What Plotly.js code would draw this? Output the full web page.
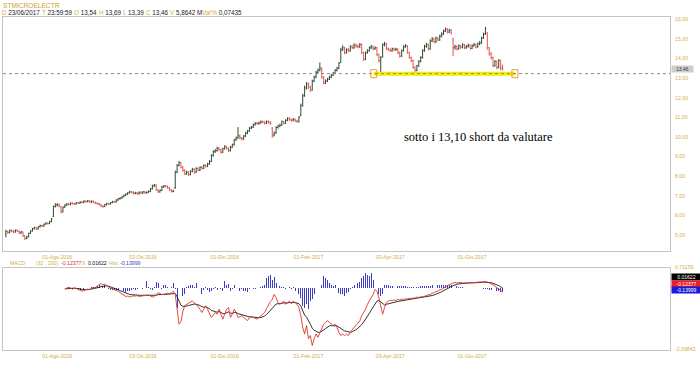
<!DOCTYPE html>
<html>
<head>
<meta charset="utf-8">
<script src="https://cdn.plot.ly/plotly-3.0.1.min.js"></script>
<style>html,body{margin:0;padding:0;background:#fff}#chart{width:700px;height:365px}</style>
</head>
<body>
<div id="chart"></div>
<script>
// ---- data (daily bars, 23/06/2016 .. 23/06/2017) ----
const openP = [5.05,5.18,5.12,5.22,5.20,5.15,5.24,5.19,5.10,5.15,
4.95,4.82,4.90,5.08,5.20,5.32,5.38,5.30,5.42,5.48,
5.45,5.55,5.60,5.58,5.68,5.95,6.45,6.52,6.55,6.45,
6.18,6.42,6.52,6.58,6.55,6.62,6.60,6.58,6.64,6.62,
6.68,6.66,6.72,6.70,6.74,6.68,6.72,6.66,6.62,6.60,
6.55,6.48,6.45,6.55,6.60,6.58,6.65,6.70,6.68,6.78,
6.85,6.88,6.95,7.02,7.08,7.15,7.20,7.18,7.12,7.15,
7.10,7.18,7.14,7.20,7.15,7.18,7.22,7.35,7.50,7.55,
7.30,7.20,7.28,7.45,7.50,7.48,7.40,7.30,7.22,7.40,
8.20,8.55,8.68,8.45,8.30,8.12,8.20,8.08,8.25,8.35,
8.20,8.40,8.30,8.45,8.40,8.55,8.50,8.62,8.75,9.05,
9.25,9.30,9.42,9.35,9.22,9.40,9.50,9.42,9.30,9.48,
9.60,9.85,9.95,10.05,9.95,9.90,10.05,10.20,10.30,10.45,
10.50,10.62,10.70,10.68,10.72,10.78,10.75,10.70,10.78,10.75,
10.45,10.10,10.20,10.48,10.55,10.60,10.78,10.70,10.85,10.95,
10.88,10.85,10.90,10.82,10.78,11.10,11.60,12.10,12.50,12.70,
12.55,12.40,12.85,13.05,13.30,13.40,13.50,13.05,12.75,12.85,
12.95,13.05,13.15,13.25,13.40,13.50,13.80,14.45,14.55,14.30,
14.45,14.40,14.60,14.55,14.68,14.62,14.60,14.72,14.30,13.95,
14.30,14.40,14.55,14.60,14.50,14.55,14.20,13.90,14.10,14.70,
14.75,14.50,14.45,14.40,14.50,14.45,14.48,14.30,14.12,14.40,
14.60,14.65,14.30,14.05,13.90,13.55,13.40,13.62,13.85,14.05,
14.40,14.62,14.70,14.50,14.90,15.00,14.85,15.05,14.95,15.15,
15.25,15.40,15.50,15.35,15.45,15.00,14.55,14.62,14.50,14.65,
14.58,14.70,14.55,14.62,14.68,14.52,14.65,14.72,14.60,14.75,
14.80,15.05,15.25,15.30,14.55,14.25,14.05,13.65,13.85,13.55,
13.90,13.54];

const highP = [5.26,5.22,5.27,5.28,5.24,5.28,5.28,5.22,5.20,5.17,
4.98,4.95,5.12,5.24,5.36,5.42,5.41,5.45,5.52,5.52,
5.58,5.64,5.64,5.72,5.86,6.50,6.62,6.62,6.60,6.48,
6.45,6.56,6.62,6.62,6.66,6.66,6.64,6.68,6.68,6.72,
6.72,6.76,6.76,6.78,6.77,6.76,6.75,6.70,6.66,6.64,
6.58,6.52,6.58,6.64,6.64,6.68,6.74,6.74,6.82,6.88,
6.92,6.98,7.06,7.12,7.18,7.25,7.24,7.22,7.20,7.19,
7.22,7.22,7.24,7.24,7.22,7.27,7.40,7.56,7.60,7.58,
7.34,7.32,7.50,7.55,7.55,7.52,7.44,7.34,7.30,8.28,
8.62,8.78,8.72,8.52,8.35,8.28,8.25,8.30,8.42,8.40,
8.45,8.45,8.50,8.52,8.60,8.60,8.68,8.82,9.12,9.32,
9.38,9.50,9.48,9.40,9.45,9.58,9.55,9.46,9.54,9.66,
9.90,10.02,10.50,10.12,10.00,10.10,10.26,10.36,10.50,10.56,
10.68,10.76,10.76,10.78,10.84,10.84,10.80,10.84,10.84,10.80,
10.50,10.28,10.54,10.62,10.68,10.84,10.82,10.90,11.00,11.00,
10.94,10.96,10.95,10.88,11.06,11.70,12.20,12.62,12.80,12.78,
12.62,12.92,13.12,13.38,13.50,13.80,13.55,13.10,12.94,13.02,
13.12,13.22,13.32,13.46,13.58,13.82,14.55,14.68,14.60,14.52,
14.55,14.68,14.70,14.78,14.76,14.72,14.80,14.76,14.35,14.36,
14.48,14.62,14.70,14.66,14.62,14.60,14.25,14.12,14.78,14.85,
14.80,14.56,14.52,14.56,14.55,14.55,14.52,14.36,14.46,14.68,
14.74,14.68,14.35,14.10,13.94,13.60,13.68,13.92,14.12,14.48,
14.70,14.80,14.76,14.98,15.10,15.05,15.12,15.10,15.22,15.34,
15.48,15.58,15.55,15.52,15.50,15.05,14.70,14.66,14.72,14.70,
14.78,14.74,14.70,14.76,14.72,14.72,14.80,14.76,14.82,14.90,
15.12,15.32,15.62,15.35,14.60,14.32,14.10,13.92,13.90,13.98,
13.94,13.69];

const lowP = [4.88,5.06,5.08,5.14,5.10,5.12,5.14,5.05,5.06,4.90,
4.74,4.78,4.88,5.05,5.18,5.28,5.26,5.28,5.38,5.40,
5.42,5.52,5.53,5.55,5.65,5.92,6.40,6.45,6.40,6.10,
6.15,6.38,6.48,6.50,6.52,6.55,6.54,6.55,6.58,6.58,
6.62,6.62,6.65,6.66,6.64,6.64,6.62,6.58,6.55,6.50,
6.42,6.38,6.42,6.50,6.54,6.55,6.62,6.63,6.65,6.74,
6.80,6.84,6.92,6.98,7.04,7.12,7.12,7.06,7.08,7.05,
7.06,7.08,7.10,7.10,7.10,7.14,7.20,7.32,7.44,7.25,
7.14,7.16,7.25,7.40,7.42,7.35,7.25,7.16,7.18,7.35,
8.15,8.50,8.40,8.22,8.05,8.06,8.00,8.04,8.20,8.12,
8.16,8.24,8.26,8.34,8.36,8.44,8.46,8.58,8.72,9.00,
9.18,9.25,9.28,9.15,9.18,9.35,9.36,9.22,9.26,9.44,
9.56,9.80,9.90,9.88,9.82,9.86,10.00,10.14,10.26,10.40,
10.46,10.58,10.62,10.62,10.68,10.70,10.64,10.66,10.68,10.62,
9.95,10.02,10.16,10.42,10.50,10.56,10.64,10.66,10.80,10.82,
10.78,10.80,10.76,10.72,10.74,11.05,11.55,12.05,12.42,12.45,
12.30,12.36,12.80,13.00,13.22,13.35,12.98,12.68,12.70,12.80,
12.90,13.00,13.10,13.20,13.34,13.46,13.78,14.38,14.22,14.25,
14.32,14.35,14.48,14.50,14.55,14.52,14.55,14.22,13.88,13.92,
14.25,14.35,14.48,14.42,14.44,14.12,13.80,13.25,14.05,14.62,
14.44,14.38,14.34,14.35,14.38,14.40,14.22,14.05,14.08,14.36,
14.55,14.24,13.98,13.82,13.48,13.28,13.35,13.58,13.80,14.00,
14.35,14.55,14.42,14.45,14.84,14.78,14.80,14.88,14.90,15.08,
15.20,15.35,15.28,15.30,15.22,14.12,14.45,14.42,14.45,14.50,
14.52,14.48,14.50,14.56,14.45,14.48,14.60,14.52,14.55,14.68,
14.75,15.00,15.20,14.45,14.15,13.95,13.55,13.58,13.45,13.50,
13.40,13.39];

const closeP = [5.18,5.12,5.22,5.20,5.15,5.24,5.19,5.10,5.16,4.95,
4.82,4.90,5.08,5.20,5.32,5.38,5.30,5.42,5.48,5.45,
5.55,5.60,5.58,5.68,5.82,6.45,6.52,6.55,6.48,6.18,
6.42,6.52,6.58,6.55,6.62,6.60,6.58,6.64,6.62,6.68,
6.66,6.72,6.70,6.74,6.68,6.72,6.66,6.62,6.60,6.55,
6.48,6.45,6.55,6.60,6.58,6.65,6.70,6.68,6.78,6.85,
6.88,6.95,7.02,7.08,7.15,7.20,7.18,7.12,7.15,7.10,
7.18,7.14,7.20,7.15,7.18,7.22,7.35,7.50,7.55,7.30,
7.20,7.28,7.45,7.50,7.48,7.40,7.30,7.22,7.25,8.20,
8.55,8.68,8.45,8.30,8.12,8.20,8.08,8.25,8.35,8.20,
8.40,8.30,8.45,8.40,8.55,8.50,8.62,8.75,9.05,9.25,
9.30,9.42,9.35,9.22,9.40,9.50,9.42,9.30,9.48,9.60,
9.85,9.95,10.05,9.95,9.90,10.05,10.20,10.30,10.45,10.50,
10.62,10.70,10.68,10.72,10.78,10.75,10.70,10.78,10.75,10.68,
10.10,10.20,10.48,10.55,10.60,10.78,10.70,10.85,10.95,10.88,
10.85,10.90,10.82,10.78,11.00,11.60,12.10,12.50,12.70,12.55,
12.40,12.85,13.05,13.30,13.40,13.50,13.05,12.75,12.85,12.95,
13.05,13.15,13.25,13.40,13.50,13.75,14.45,14.55,14.30,14.45,
14.40,14.60,14.55,14.68,14.62,14.60,14.72,14.30,13.95,14.30,
14.40,14.55,14.60,14.50,14.55,14.20,13.90,14.05,14.70,14.75,
14.50,14.45,14.40,14.50,14.45,14.48,14.30,14.12,14.40,14.60,
14.65,14.30,14.05,13.90,13.55,13.40,13.62,13.85,14.05,14.40,
14.62,14.70,14.50,14.90,15.00,14.85,15.05,14.95,15.15,15.25,
15.40,15.50,15.35,15.45,15.30,14.55,14.62,14.50,14.65,14.58,
14.70,14.55,14.62,14.68,14.52,14.65,14.72,14.60,14.75,14.80,
15.05,15.25,15.52,14.55,14.25,14.05,13.65,13.85,13.55,13.90,
13.50,13.46];

// MACD (32,200) with signal 9 — first value belongs to bar number macdFirstBar
const macdFirstBar = 31;
const macdLine = [-0.02,0.00,0.03,0.01,-0.03,0.02,0.00,-0.04,-0.07,-0.10,
-0.08,-0.05,-0.03,-0.04,0.00,0.03,0.02,0.08,0.13,0.16,
0.12,0.14,0.08,0.04,0.00,-0.02,-0.05,-0.07,-0.10,-0.15,
-0.20,-0.25,-0.28,-0.27,-0.30,-0.28,-0.26,-0.27,-0.25,-0.28,
-0.27,-0.26,-0.24,-0.22,-0.23,-0.27,-0.30,-0.28,-0.22,-0.15,
-0.18,-0.22,-0.21,-0.19,-0.17,-0.19,-0.16,-0.10,-0.21,-0.72,
-1.23,-1.15,-0.80,-0.60,-0.55,-0.50,-0.47,-0.44,-0.49,-0.55,
-0.62,-0.72,-0.83,-0.72,-0.60,-0.72,-0.89,-1.00,-0.92,-0.83,
-0.89,-0.72,-0.89,-1.06,-0.89,-0.72,-0.66,-1.00,-0.89,-0.72,
-0.83,-1.00,-0.97,-0.94,-1.00,-1.06,-1.11,-1.00,-0.98,-1.00,
-1.04,-1.06,-1.00,-0.94,-0.90,-0.83,-0.70,-0.55,-0.45,-0.38,
-0.21,-0.32,-0.49,-0.55,-0.49,-0.44,-0.55,-0.49,-0.44,-0.53,
-0.44,-0.49,-0.55,-0.66,-0.94,-1.34,-1.57,-1.28,-1.73,-1.62,
-1.96,-1.73,-1.57,-1.68,-1.51,-1.34,-1.23,-1.17,-1.11,-1.17,
-1.23,-1.28,-1.23,-1.34,-1.51,-1.62,-1.57,-1.62,-1.57,-1.62,
-1.51,-1.40,-1.34,-1.28,-1.17,-1.11,-0.94,-0.83,-0.72,-0.55,
-0.44,-0.32,-0.21,-0.04,-0.10,-0.32,-0.66,-0.89,-0.66,-0.49,
-0.44,-0.41,-0.43,-0.40,-0.42,-0.38,-0.40,-0.37,-0.39,-0.36,
-0.37,-0.34,-0.36,-0.33,-0.34,-0.30,-0.32,-0.29,-0.30,-0.27,
-0.26,-0.22,-0.22,-0.17,-0.16,-0.11,-0.10,-0.05,-0.04,0.01,
0.04,0.09,0.12,0.16,0.18,0.20,0.18,0.19,0.20,0.18,
0.18,0.19,0.18,0.18,0.19,0.19,0.20,0.21,0.22,0.23,
0.24,0.23,0.21,0.19,0.16,0.12,0.07,0.03,-0.02,-0.08,
-0.12377];

const signalLine = [-0.02,-0.01,0.00,0.01,0.00,0.00,0.00,-0.01,-0.02,-0.04,
-0.05,-0.05,-0.05,-0.04,-0.03,-0.02,-0.01,0.01,0.03,0.06,
0.07,0.08,0.08,0.07,0.05,0.03,0.01,-0.02,-0.05,-0.08,
-0.11,-0.14,-0.17,-0.19,-0.21,-0.22,-0.23,-0.23,-0.23,-0.24,
-0.24,-0.24,-0.24,-0.23,-0.23,-0.24,-0.25,-0.25,-0.24,-0.22,
-0.21,-0.21,-0.21,-0.21,-0.20,-0.20,-0.19,-0.17,-0.18,-0.29,
-0.47,-0.58,-0.62,-0.62,-0.61,-0.59,-0.57,-0.55,-0.54,-0.55,
-0.56,-0.59,-0.63,-0.65,-0.64,-0.66,-0.70,-0.76,-0.79,-0.80,
-0.82,-0.80,-0.82,-0.87,-0.87,-0.84,-0.81,-0.85,-0.86,-0.83,
-0.83,-0.87,-0.89,-0.90,-0.92,-0.95,-0.98,-0.98,-0.98,-0.99,
-1.00,-1.01,-1.01,-1.00,-0.98,-0.95,-0.90,-0.83,-0.76,-0.68,
-0.59,-0.54,-0.53,-0.53,-0.52,-0.50,-0.51,-0.50,-0.49,-0.50,
-0.49,-0.49,-0.50,-0.53,-0.61,-0.76,-0.92,-0.99,-1.14,-1.23,
-1.37,-1.44,-1.47,-1.51,-1.51,-1.48,-1.43,-1.38,-1.32,-1.29,
-1.28,-1.28,-1.27,-1.29,-1.33,-1.39,-1.42,-1.46,-1.48,-1.51,
-1.51,-1.49,-1.46,-1.42,-1.37,-1.32,-1.24,-1.16,-1.07,-0.97,
-0.86,-0.75,-0.64,-0.52,-0.44,-0.42,-0.47,-0.55,-0.57,-0.55,
-0.53,-0.51,-0.49,-0.48,-0.46,-0.45,-0.44,-0.43,-0.42,-0.41,
-0.40,-0.39,-0.38,-0.37,-0.36,-0.35,-0.34,-0.33,-0.32,-0.31,
-0.30,-0.29,-0.27,-0.25,-0.23,-0.21,-0.18,-0.15,-0.12,-0.09,
-0.06,-0.02,0.02,0.06,0.09,0.12,0.14,0.15,0.16,0.17,
0.17,0.18,0.18,0.18,0.18,0.18,0.19,0.19,0.20,0.20,
0.21,0.21,0.21,0.20,0.19,0.17,0.15,0.12,0.09,0.05,
0.01622];

const histBars = [0.00,0.01,0.03,0.00,-0.03,0.02,0.00,-0.03,-0.05,-0.06,
-0.03,0.00,0.02,0.00,0.03,0.05,0.03,0.07,0.10,0.19,
0.08,0.12,0.02,-0.03,-0.05,-0.05,-0.06,-0.05,-0.05,-0.07,
-0.09,-0.11,-0.12,-0.08,-0.10,-0.06,-0.03,-0.05,-0.02,-0.04,
-0.03,-0.02,0.01,0.24,0.03,-0.03,-0.05,0.04,0.22,0.19,
0.03,-0.01,0.10,0.11,0.05,0.02,0.04,0.19,-0.04,-0.66,
-0.55,-0.38,-0.25,-0.20,0.05,0.08,0.10,0.10,0.05,0.19,
0.15,-0.06,-0.18,-0.06,0.05,-0.06,-0.12,-0.10,-0.03,0.03,
-0.06,0.08,-0.04,-0.10,0.24,0.12,0.15,-0.10,-0.03,0.11,
0.02,-0.12,-0.08,-0.04,-0.08,-0.11,-0.13,-0.02,0.00,-0.01,
-0.04,-0.05,0.01,0.06,0.08,0.12,0.36,0.41,0.47,0.30,
0.38,0.19,0.10,0.07,0.04,0.06,-0.04,0.01,0.05,-0.03,
0.05,-0.10,-0.15,-0.21,-0.33,-0.60,-0.66,-0.55,-0.72,-0.45,
-0.38,-0.21,-0.10,-0.05,0.00,0.10,0.41,0.36,0.30,0.19,
0.12,0.07,0.10,-0.05,-0.15,-0.21,-0.18,-0.27,-0.15,-0.12,
-0.02,0.06,0.10,0.12,0.18,0.21,0.36,0.41,0.52,0.47,
0.41,0.52,0.30,0.69,0.47,-0.21,-0.25,-0.21,0.10,0.12,
0.10,0.09,0.09,0.08,0.09,0.08,0.07,0.07,0.08,0.07,
0.06,0.06,0.05,0.05,0.05,0.06,0.06,0.07,0.07,0.08,
0.08,0.09,0.09,0.10,0.10,0.10,0.11,0.11,0.11,0.12,
0.12,0.12,0.11,0.11,0.10,0.09,0.07,0.05,0.04,0.03,
0.02,0.02,0.01,0.01,0.01,0.01,0.01,0.01,0.01,0.01,
-0.01,-0.02,-0.03,-0.05,-0.06,-0.07,-0.08,-0.09,-0.11,-0.12,
-0.13999];

// axis labels: bar number of each labelled date and its text
const tickBar = [27, 72, 115, 159, 202, 245];
const tickLabels = ['01-Ago-2016','03-Ott-2016','01-Dic-2016','01-Feb-2017','03-Apr-2017','01-Giu-2017'];
const priceTicks = [5,6,7,8,9,10,11,12,13,14,15,16];
const priceTickLabels = ['5,00','6,00','7,00','8,00','9,00','10,00','11,00','12,00','13,00','14,00','15,00','16,00'];
const macdRange = [-2.09842, 0.71159];
const macdRangeLabels = ['-2,09842','0,71159'];
const supportLevel = 13.23;
const supportFromBar = 193.3, supportToBar = 267.5;
const lastClose = 13.46;

// header values
const headerItems = [['D','23/06/2017'],['T','23:59:59'],['O','13,54'],['H','13,69'],['L','13,39'],['C','13,46'],['V','5,8642 M'],['Var%','0,07435']];
const headerX = [0, 40, 72, 97, 121, 144, 168, 200];

// ---- drawing ----
const W = 700, H = 365;
const px = v => v / W, py = v => 1 - v / H;
const GOLD = '#d2ad45';
const FONT = 'Liberation Sans, Arial, sans-serif';
const bars = closeP.map((_, i) => i);
const macdX = macdLine.map((_, k) => k + macdFirstBar);
const xr = [-1.5, 349];

const traces = [
  {type:'ohlc', x:bars, open:openP, high:highP, low:lowP, close:closeP,
   xaxis:'x', yaxis:'y', tickwidth:0.45, hoverinfo:'skip',
   increasing:{line:{color:'#2f4a33', width:1}},
   decreasing:{line:{color:'#e0554d', width:1}}},
  {type:'bar', x:macdX, y:histBars, xaxis:'x2', yaxis:'y2', width:0.45,
   marker:{color:'#3c3cc4', line:{width:0}}, hoverinfo:'skip'},
  {type:'scatter', mode:'lines', x:macdX, y:signalLine, xaxis:'x2', yaxis:'y2',
   line:{color:'#1a1a1a', width:0.9}, hoverinfo:'skip'},
  {type:'scatter', mode:'lines', x:macdX, y:macdLine, xaxis:'x2', yaxis:'y2',
   line:{color:'#e0352b', width:0.9}, hoverinfo:'skip'}
];

const axisCommon = {showgrid:false, zeroline:false, showline:true, mirror:true,
  linecolor:'#c4c4c4', linewidth:1, ticks:'', fixedrange:true,
  tickfont:{family:FONT, size:5.2, color:GOLD}};

const annotations = [];
annotations.push({xref:'paper', yref:'paper', x:px(1), y:py(5), xanchor:'left', yanchor:'middle',
  text:'STMICROELECTR', showarrow:false, font:{family:FONT, size:6.6, color:'#c9a12a'}});
headerItems.forEach((it, k) => {
  annotations.push({xref:'paper', yref:'paper', x:px(headerX[k]), y:py(13), xanchor:'left', yanchor:'middle',
    showarrow:false, font:{family:FONT, size:6.3, color:'#222'},
    text:'<span style="color:' + GOLD + '">' + it[0] + '</span> ' + it[1]});
});
// MACD legend row
const macdRow = [[8,'MACD',GOLD],[34,'(32 , 200)',GOLD],[59,'-0,12377','#e0352b'],[80,'9',GOLD],
  [86,'0,01622','#111'],[107,'Hist',GOLD],[118,'-0,13999','#3c3cc4']];
macdRow.forEach(r => annotations.push({xref:'paper', yref:'paper', x:px(r[0]), y:py(262.5),
  xanchor:'left', yanchor:'middle', showarrow:false, text:r[1], font:{family:FONT, size:5.2, color:r[2]}}));
// last price box
annotations.push({xref:'paper', yref:'y', x:px(671), y:lastClose, xanchor:'left', yanchor:'middle',
  showarrow:false, text:'13.46', bgcolor:'#cdcdcd', width:21, height:6, borderpad:0,
  font:{family:FONT, size:4.8, color:'#333'}});
// macd value boxes
[['0.01622','#000',276.7],['-0.12377','#ee1c1c',283.8],['-0.13999','#1a1adc',290.3]].forEach(b =>
  annotations.push({xref:'paper', yref:'paper', x:px(671), y:py(b[2]), xanchor:'left', yanchor:'middle',
    showarrow:false, text:b[0], bgcolor:b[1], width:29, height:6, borderpad:0,
    font:{family:FONT, size:5, color:'#fff'}}));
// comment text
annotations.push({xref:'x', yref:'y', x:248.5, y:10.0, xanchor:'center', yanchor:'middle', showarrow:false,
  text:'sotto i 13,10 short da valutare', font:{family:'Liberation Serif, Times New Roman, serif', size:12.5, color:'#000'}});

const shapes = [
  {type:'line', xref:'x', yref:'y', x0:supportFromBar, x1:supportToBar, y0:supportLevel, y1:supportLevel,
   line:{color:'#f2ee00', width:4}},
  {type:'line', xref:'x domain', yref:'y', x0:0, x1:1, y0:supportLevel, y1:supportLevel,
   line:{color:'#8a8a8a', width:1, dash:'3px,3px'}},
  {type:'rect', xref:'x', yref:'y', xsizemode:'pixel', ysizemode:'pixel', xanchor:supportFromBar, yanchor:supportLevel,
   x0:-3, x1:3, y0:-4, y1:4, line:{color:'#e6a23a', width:1}, fillcolor:'rgba(0,0,0,0)'},
  {type:'rect', xref:'x', yref:'y', xsizemode:'pixel', ysizemode:'pixel', xanchor:supportToBar, yanchor:supportLevel,
   x0:-3, x1:3, y0:-4, y1:4, line:{color:'#e6a23a', width:1}, fillcolor:'rgba(0,0,0,0)'}
];

const layout = {
  width:W, height:H, margin:{l:0, r:0, t:0, b:0}, showlegend:false,
  paper_bgcolor:'#fff', plot_bgcolor:'#fff', bargap:0,
  xaxis:Object.assign({}, axisCommon, {domain:[px(3), px(670)], anchor:'y', range:xr,
    tickvals:tickBar, ticktext:tickLabels, rangeslider:{visible:false}, ticklabelstandoff:1}),
  yaxis:Object.assign({}, axisCommon, {domain:[py(251), py(17)], anchor:'x', side:'right',
    range:[4.18, 16.12], tickvals:priceTicks, ticktext:priceTickLabels, ticklabelstandoff:3}),
  xaxis2:Object.assign({}, axisCommon, {domain:[px(3), px(670)], anchor:'y2', range:xr, matches:'x',
    tickvals:tickBar, ticktext:tickLabels, ticklabelstandoff:1}),
  yaxis2:Object.assign({}, axisCommon, {domain:[py(349.5), py(267.5)], anchor:'x2', side:'right',
    range:macdRange, tickvals:macdRange, ticktext:macdRangeLabels, ticklabelstandoff:3}),
  annotations:annotations, shapes:shapes
};

Plotly.newPlot('chart', traces, layout, {staticPlot:true, displayModeBar:false});
</script>
</body>
</html>
